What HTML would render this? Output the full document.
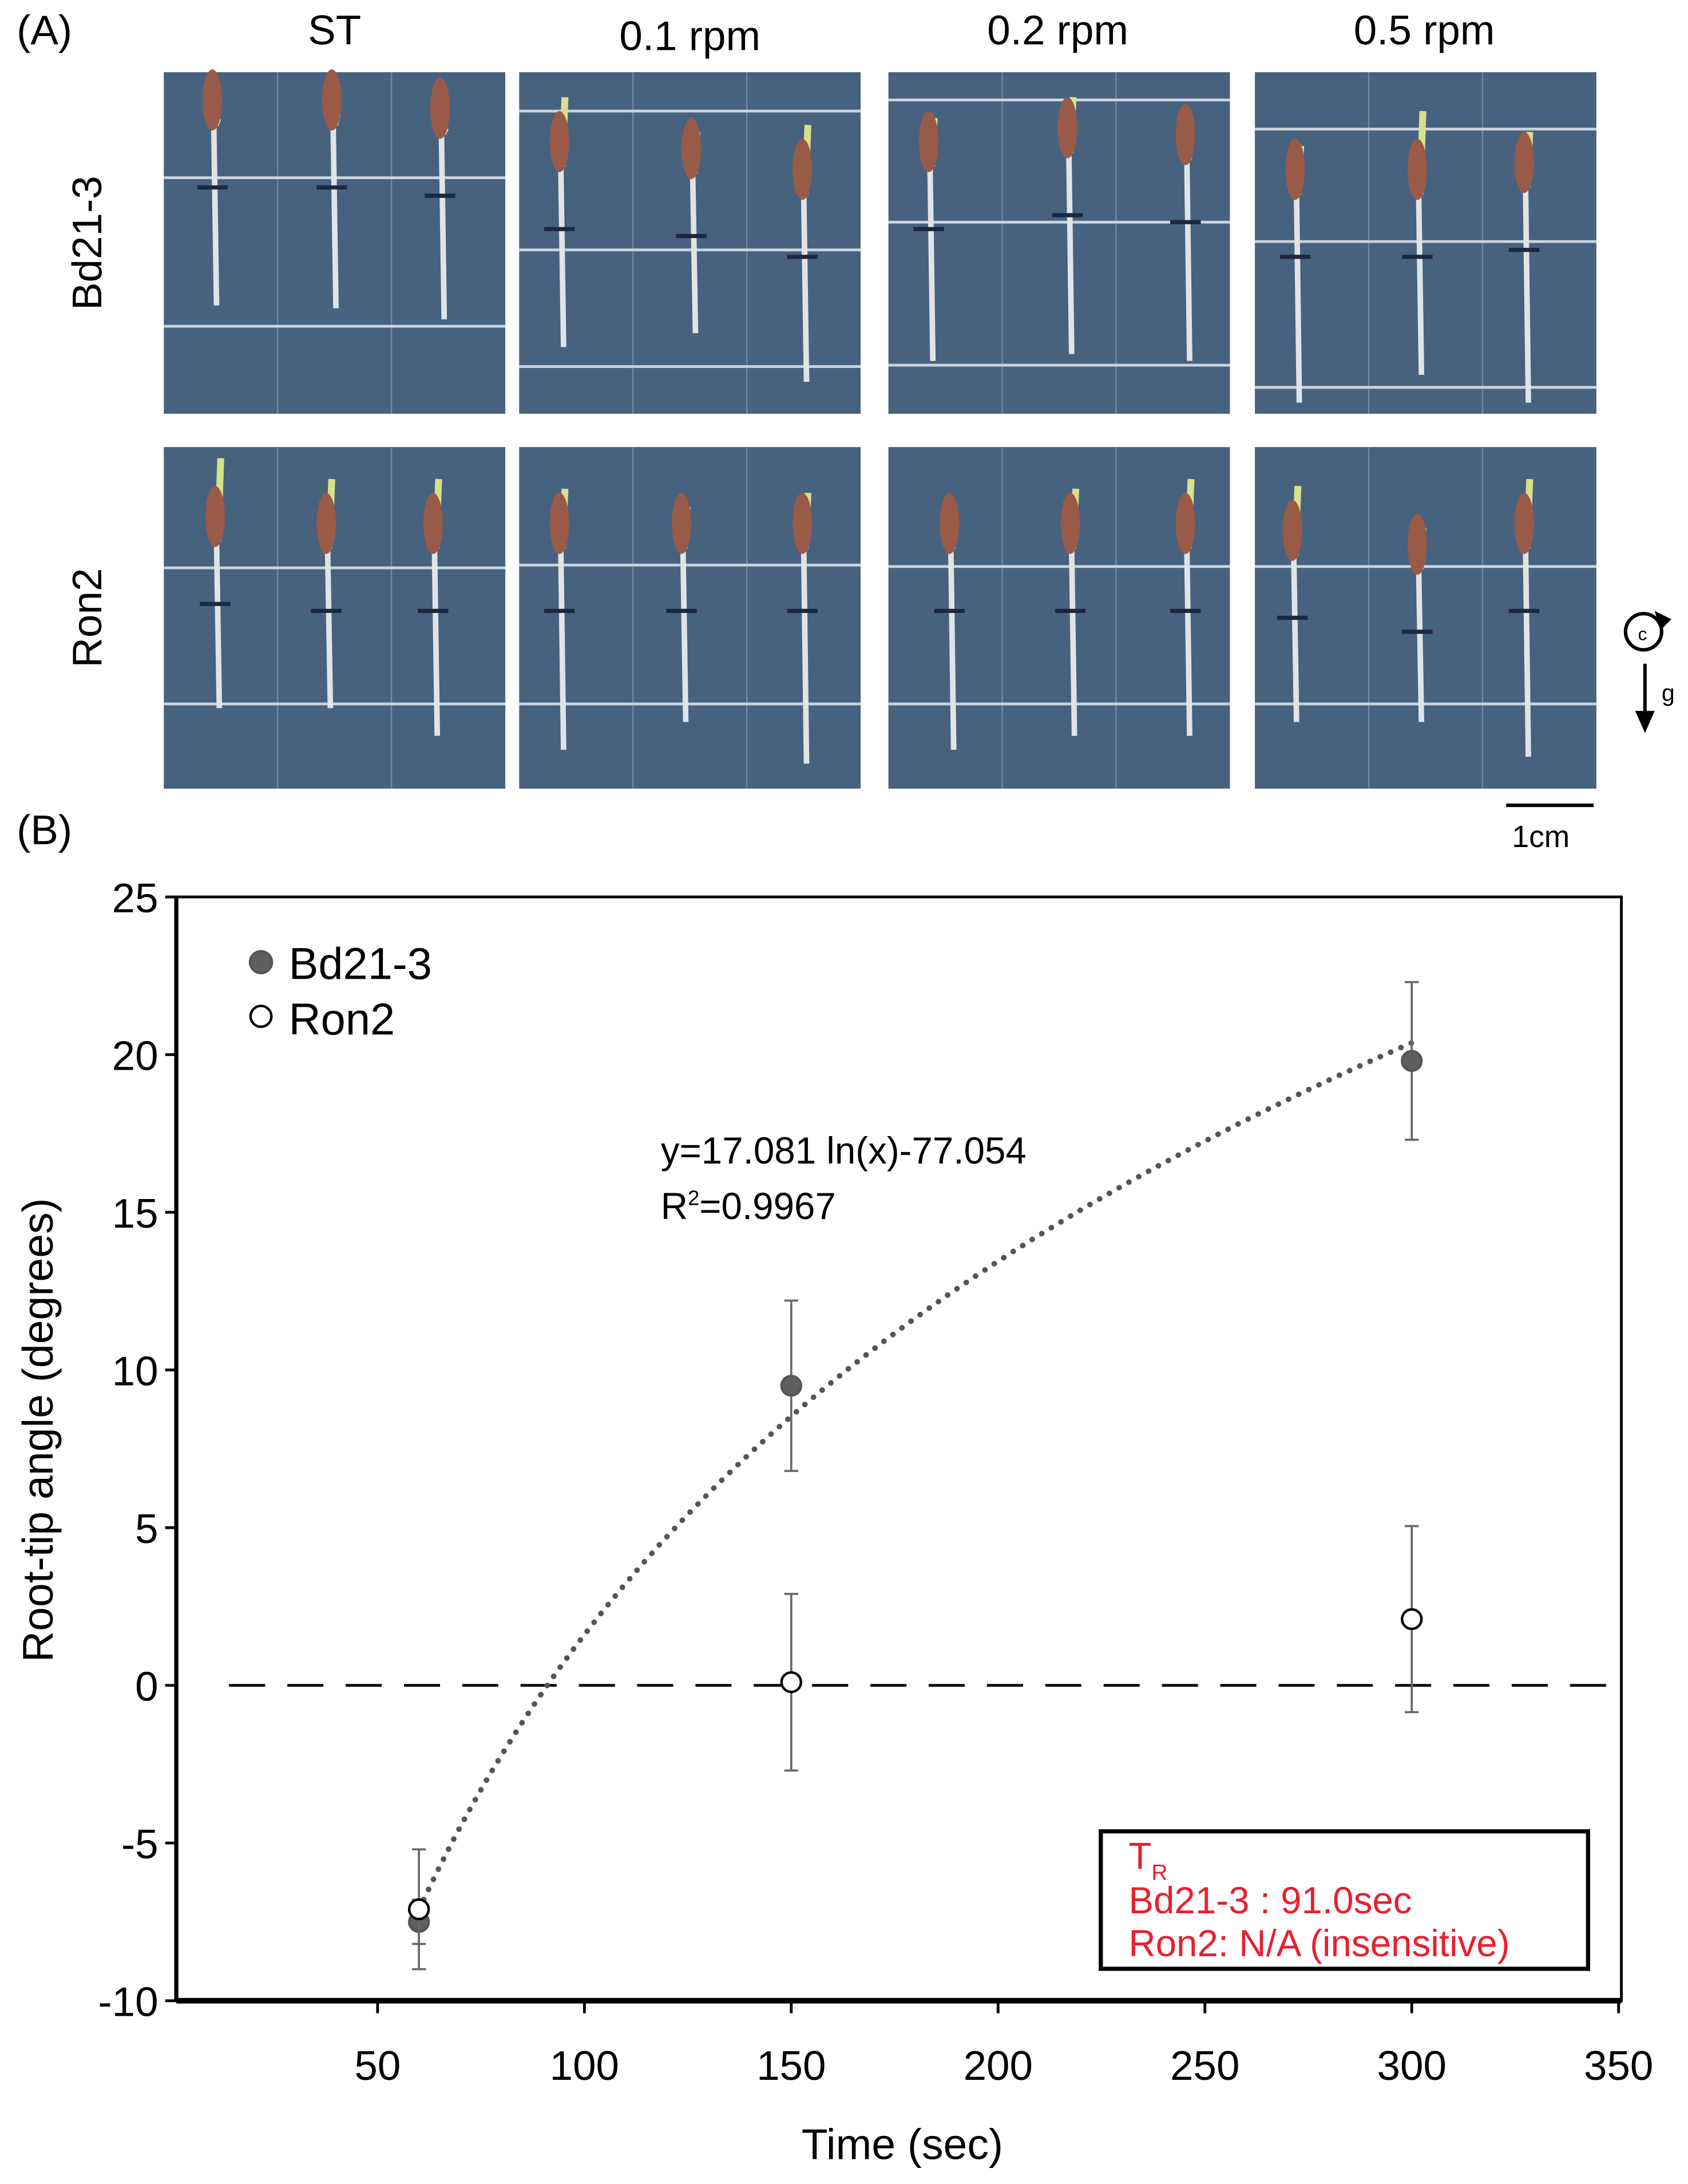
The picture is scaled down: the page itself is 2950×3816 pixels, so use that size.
<!DOCTYPE html>
<html><head><meta charset="utf-8"><style>
html,body{margin:0;padding:0;background:#fff;}
svg{display:block;}
text{font-family:"Liberation Sans",sans-serif;}
</style></head><body>
<svg id="fig" width="2950" height="3816" viewBox="0 0 1216 1573" preserveAspectRatio="none" xmlns="http://www.w3.org/2000/svg">
<text x="12" y="32" font-size="30">(A)</text>
<text x="241" y="32" font-size="30" text-anchor="middle">ST</text>
<text x="497" y="36" font-size="30" text-anchor="middle">0.1 rpm</text>
<text x="762" y="32" font-size="30" text-anchor="middle">0.2 rpm</text>
<text x="1026" y="32" font-size="30" text-anchor="middle">0.5 rpm</text>
<text transform="translate(73,175) rotate(-90)" font-size="30" text-anchor="middle">Bd21-3</text>
<text transform="translate(73,445) rotate(-90)" font-size="30" text-anchor="middle">Ron2</text>
<g id="photos"></g>
<g>
<circle cx="1184" cy="455" r="13" fill="none" stroke="#000" stroke-width="2.5"/>
<path d="M1192,440 L1204,446 L1196,454 Z" fill="#000"/>
<text x="1180" y="461" font-size="13">c</text>
</g>
<g>
<line x1="1185" y1="478" x2="1185" y2="515" stroke="#000" stroke-width="2.5"/>
<path d="M1178,512 L1192,512 L1185,528 Z" fill="#000"/>
<text x="1197" y="505" font-size="17">g</text>
</g>
<line x1="1085" y1="580" x2="1148" y2="580" stroke="#000" stroke-width="2.5"/>
<text x="1110" y="610" font-size="22" text-anchor="middle">1cm</text>
<text x="12" y="608" font-size="30">(B)</text>
<g id="chart"></g>
</svg>
<script>
const categories=[60,150,300];
const bdValues=[-7.5,9.5,19.8];
const bdErrors=[0.7,2.7,2.5];
const ronValues=[-7.1,0.1,2.1];
const ronErrors=[1.9,2.8,2.95];
const yTicks=[25,20,15,10,5,0,-5,-10];
const xTicks=[50,100,150,200,250,300,350];
const fitA=17.081, fitB=-77.054;
const NS="http://www.w3.org/2000/svg";
function mk(parent,tag,attrs,txt){const e=document.createElementNS(NS,tag);for(const k in attrs)e.setAttribute(k,attrs[k]);if(txt!==undefined)e.textContent=txt;parent.appendChild(e);return e;}
const X=v=>123+(v/350)*(1166-123);
const Y=v=>646+(25-v)/35*(1441-646);
const ch=document.getElementById('chart');
let box=mk(ch,'rect',{x:127,y:646,width:1041,height:795,fill:'none',stroke:'#000','stroke-width':2});


let xa=mk(ch,'line',{x1:127,y1:1441,x2:1168,y2:1441,stroke:'#000','stroke-width':4});


let ya=mk(ch,'line',{x1:127,y1:646,x2:127,y2:1441,stroke:'#000','stroke-width':3});


yTicks.forEach(t=>{
 const tk=mk(ch,'line',{x1:119,y1:Y(t),x2:127,y2:Y(t),stroke:'#000','stroke-width':2});
 
 
 const tl=mk(ch,'text',{x:114,y:Y(t)+11,'font-size':30,'text-anchor':'end'},String(t));
 
 
});
xTicks.forEach(t=>{
 const tk=mk(ch,'line',{x1:X(t),y1:1441,x2:X(t),y2:1450,stroke:'#000','stroke-width':2});
 
 
 const tl=mk(ch,'text',{x:X(t),y:1498,'font-size':30,'text-anchor':'middle'},String(t));
 
 
});
let yt=mk(ch,'text',{transform:'translate(38,1030) rotate(-90)','font-size':31,'text-anchor':'middle'},'Root-tip angle (degrees)');


let xt=mk(ch,'text',{x:650,y:1555,'font-size':31,'text-anchor':'middle'},'Time (sec)');


let zl=mk(ch,'line',{x1:165,y1:Y(0),x2:1168,y2:Y(0),stroke:'#000','stroke-width':2,'stroke-dasharray':'26 16'});


let d='';
for(let t=categories[0];t<=categories[categories.length-1];t+=2){d+=(d?'L':'M')+X(t).toFixed(1)+','+Y(fitA*Math.log(t)+fitB).toFixed(1);}
let fc=mk(ch,'path',{d:d,fill:'none',stroke:'#555','stroke-width':4,'stroke-dasharray':'0.1 8','stroke-linecap':'round'});


function series(vals,errs,fill,name){
 vals.forEach((v,i)=>{
  const x=X(categories[i]);
  const eb=mk(ch,'path',{d:`M${x},${Y(v+errs[i])}V${Y(v-errs[i])}M${x-5},${Y(v+errs[i])}H${x+5}M${x-5},${Y(v-errs[i])}H${x+5}`,stroke:'#666','stroke-width':1.5,fill:'none'});
  
  
 });
 vals.forEach((v,i)=>{
  const p=mk(ch,'circle',{cx:X(categories[i]),cy:Y(v),r:7,fill:fill,stroke:fill==='#fff'?'#000':'#555','stroke-width':1.8});
  
  
 });
}
series(bdValues,bdErrors,'#5f5f5f','bd21-3');
series(ronValues,ronErrors,'#fff','ron2');
let l1=mk(ch,'circle',{cx:188,cy:693,r:8,fill:'#5f5f5f',stroke:'#555','stroke-width':1.5});


let l1t=mk(ch,'text',{x:208,y:705,'font-size':32},'Bd21-3');


let l2=mk(ch,'circle',{cx:188,cy:732,r:7.5,fill:'#fff',stroke:'#000','stroke-width':1.8});


let l2t=mk(ch,'text',{x:208,y:745,'font-size':32},'Ron2');


let eq=mk(ch,'text',{x:476,y:838,'font-size':27},'y=17.081 ln(x)-77.054');


let r2=mk(ch,'text',{x:476,y:878,'font-size':27},'R');


mk(r2,'tspan',{dy:-10,'font-size':15},'2');
mk(r2,'tspan',{dy:10},'=0.9967');
let rb=mk(ch,'rect',{x:793,y:1319,width:351,height:99,fill:'#fff',stroke:'#000','stroke-width':3});


let t1=mk(ch,'text',{x:813,y:1346,'font-size':27,fill:'#e8202e'},'T');


mk(t1,'tspan',{dy:8,'font-size':16},'R');
let t2=mk(ch,'text',{x:813,y:1378,'font-size':27,fill:'#e8202e'},'Bd21-3 : 91.0sec');


let t3=mk(ch,'text',{x:813,y:1409,'font-size':27,fill:'#e8202e'},'Ron2: N/A (insensitive)');


const ph=document.getElementById('photos');
const px=[118,374,640,904], py=[52,322];
const hLines=[[[128,235],[80,180,264],[72,160,263],[93,174,279]],[[409,507],[407,507],[408,507],[408,507]]];
const seeds=[[[{x:36,t:85,s:90,b:220},{x:122,t:82,s:90,b:222},{x:200,t:92,s:96,b:230}],[{x:30,t:70,s:120,b:250},{x:125,t:95,s:125,b:240},{x:205,t:90,s:140,b:275}],[{x:30,t:85,s:120,b:260},{x:130,t:70,s:110,b:255},{x:215,t:90,s:115,b:260}],[{x:30,t:105,s:140,b:290},{x:118,t:80,s:140,b:270},{x:195,t:95,s:135,b:290}]],
[[{x:38,t:330,s:390,b:510},{x:118,t:345,s:395,b:510},{x:195,t:345,s:395,b:530}],[{x:30,t:352,s:395,b:540},{x:118,t:365,s:395,b:520},{x:205,t:355,s:395,b:550}],[{x:45,t:370,s:395,b:540},{x:132,t:352,s:395,b:530},{x:215,t:345,s:395,b:530}],[{x:28,t:350,s:400,b:520},{x:118,t:380,s:410,b:520},{x:195,t:345,s:395,b:545}]]];
for(let r=0;r<2;r++)for(let c=0;c<4;c++){
 const g=mk(ph,'g',{});
 
 
 mk(g,'rect',{x:px[c],y:py[r],width:246,height:246,fill:'#46627f'});
 [82,164].forEach(o=>mk(g,'line',{x1:px[c]+o,y1:py[r],x2:px[c]+o,y2:py[r]+246,stroke:'#6f88a3','stroke-width':1}));
 hLines[r][c].forEach(yy=>mk(g,'line',{x1:px[c],y1:yy,x2:px[c]+246,y2:yy,stroke:'#c9d4de','stroke-width':2}));
 seeds[r][c].forEach(s=>{
  const x=px[c]+s.x;
  mk(g,'line',{x1:x+3,y1:s.t,x2:x+1,y2:s.s,stroke:'#d8e08a','stroke-width':5});
  mk(g,'line',{x1:x,y1:s.s,x2:x+2,y2:s.b,stroke:'#dfe4e6','stroke-width':4});
  mk(g,'ellipse',{cx:x-1,cy:s.s-18,rx:7,ry:22,fill:'#9a5a48'});
  mk(g,'line',{x1:x-12,y1:s.s+45,x2:x+10,y2:s.s+45,stroke:'#1d2840','stroke-width':3});
 });
}
</script>
</body></html>
